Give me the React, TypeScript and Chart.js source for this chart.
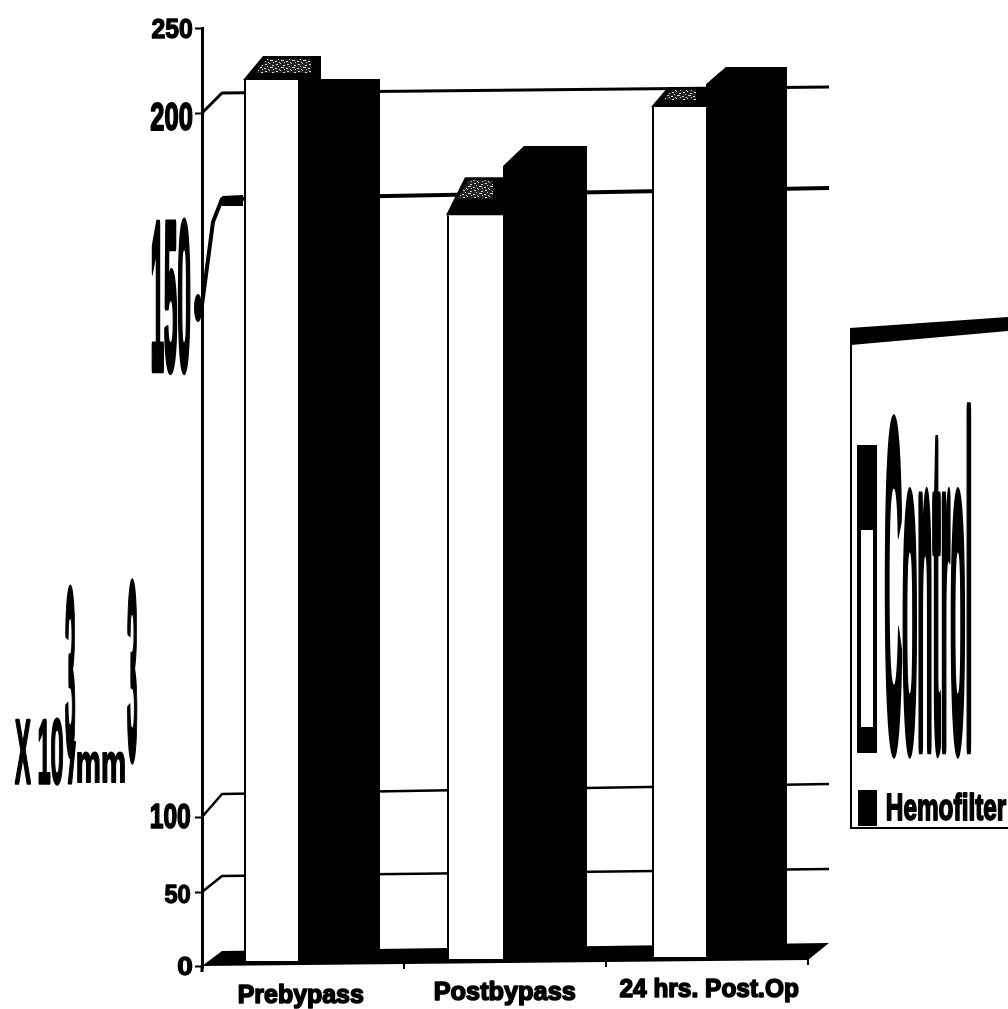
import React, { useEffect, useRef } from "react";
import { Chart, registerables, LinearScale } from "chart.js";

// ---------- data ----------
const categories = ["Prebypass", "Postbypass", "24 hrs. Post.Op"];
const seriesNames = ["Control", "Hemofilter"];
const controlValues = [219.4, 173.4, 203.5];
const hemofilterValues = [220, 191.4, 227];
const controlBase = [3.3, 4.7, 6];
const hemofilterBase = [3.3, 4.7, 6];
const tickValues = [0, 50, 100, 150, 200, 250];
const axisTitleParts = ["X 10", "3", "/mm", "3"];

// ---------- layout (the scanned figure has a warped value axis) ----------
const warpPixels = [966, 892, 817, 305, 113, 28];
const W = 1008;
const H = 1009;
const AREA = { left: 202, right: 808, top: 28, bottom: 968 };
// bar edges relative to category centre
const controlEdges = [[-59, -5], [-58, -2], [-55, -1]];
const hemofilterEdges = [[-5, 77], [-2, 82], [-1, 80]];
// tick label boxes [x0,y0,x1,y1] per tick
const tickBoxes = [
  [178, 957, 192, 975],
  [165, 885, 190, 903],
  [151, 804, 190, 828],
  [152, 223, 190, 368],
  [151, 103, 192, 130],
  [152, 18, 192, 38],
];
const catBoxes = [
  [239, 983, 363, 1008],
  [435, 981, 575, 1005],
  [620, 978, 798, 1002],
];
const titleBoxes = [
  [15, 720, 63, 783],
  [65, 588, 75, 752],
  [68, 740, 125, 783],
  [127, 583, 137, 757],
];
const wallLeft = [0, 876, 794, 199, 93];
const wallRight = [0, 869, 784, 188, 87];
const wallWidth = [0, 2.5, 2.5, 4, 3];
const FONT = '"Liberation Sans", Arial, sans-serif';

class WarpedLinearScale extends LinearScale {
  static id = "warped";
  static defaults = LinearScale.defaults;
  getPixelForValue(v: number) {
    const t = tickValues;
    let i = 0;
    while (i < t.length - 2 && v > t[i + 1]) i++;
    return warpPixels[i] + ((v - t[i]) / (t[i + 1] - t[i])) * (warpPixels[i + 1] - warpPixels[i]);
  }
  getValueForPixel(p: number) {
    let i = 0;
    while (i < warpPixels.length - 2 && p < warpPixels[i + 1]) i++;
    return tickValues[i] + ((p - warpPixels[i]) / (warpPixels[i + 1] - warpPixels[i])) * (tickValues[i + 1] - tickValues[i]);
  }
}

Chart.register(...registerables, WarpedLinearScale);

function fitText(ctx: CanvasRenderingContext2D, text: string, b: number[], heavy = 1) {
  ctx.save();
  ctx.font = `bold 40px ${FONT}`;
  ctx.textAlign = "left";
  ctx.textBaseline = "alphabetic";
  ctx.fillStyle = "#000";
  ctx.strokeStyle = "#000";
  const m = ctx.measureText(text);
  const bw = m.actualBoundingBoxLeft + m.actualBoundingBoxRight;
  const bh = m.actualBoundingBoxAscent + m.actualBoundingBoxDescent;
  ctx.translate(b[0], b[1]);
  ctx.scale((b[2] - b[0]) / bw, (b[3] - b[1]) / bh);
  ctx.fillText(text, m.actualBoundingBoxLeft, m.actualBoundingBoxAscent);
  ctx.lineWidth = heavy;
  ctx.lineJoin = "round";
  ctx.strokeText(text, m.actualBoundingBoxLeft, m.actualBoundingBoxAscent);
  ctx.restore();
}

function poly(ctx: CanvasRenderingContext2D, pts: number[][], fill: any) {
  ctx.beginPath();
  pts.forEach((p, i) => (i ? ctx.lineTo(p[0], p[1]) : ctx.moveTo(p[0], p[1])));
  ctx.closePath();
  ctx.fillStyle = fill;
  ctx.fill();
}

function speckle(ctx: CanvasRenderingContext2D) {
  const c = document.createElement("canvas");
  c.width = 11;
  c.height = 7;
  const g = c.getContext("2d")!;
  g.fillStyle = "#222";
  g.fillRect(0, 0, 11, 7);
  g.fillStyle = "#d8d8d8";
  [[1, 1, 2, 1], [5, 0, 1, 1], [8, 2, 2, 1], [3, 3, 1, 1], [6, 4, 3, 1], [0, 5, 2, 1], [9, 6, 1, 1], [4, 6, 1, 1]].forEach((r) =>
    g.fillRect(r[0], r[1], r[2], r[3])
  );
  return ctx.createPattern(c, "repeat")!;
}

const figurePlugin = {
  id: "figure",
  afterDatasetsUpdate(chart: any) {
    const x = chart.scales.x;
    [controlEdges, hemofilterEdges].forEach((edges, d) => {
      chart.getDatasetMeta(d).data.forEach((el: any, i: number) => {
        const c = x.getPixelForValue(i);
        el.x = c + (edges[i][0] + edges[i][1]) / 2;
        el.width = edges[i][1] - edges[i][0];
      });
    });
  },
  beforeDatasetsDraw(chart: any) {
    const ctx = chart.ctx as CanvasRenderingContext2D;
    const y = chart.scales.y;
    const { left } = chart.chartArea;
    const backX = left + 20;
    const farX = 829;
    ctx.save();
    ctx.strokeStyle = "#000";
    ctx.lineJoin = "round";
    // back wall lines and their side-wall runs, from the value axis ticks
    tickValues.forEach((v, i) => {
      if (i === 0 || i === tickValues.length - 1) return;
      ctx.lineWidth = wallWidth[i];
      ctx.beginPath();
      ctx.moveTo(left, y.getPixelForValue(v));
      if (v === 150) {
        ctx.lineTo(left + 11, 222);
      }
      ctx.lineTo(backX, wallLeft[i]);
      ctx.lineTo(farX, wallRight[i]);
      ctx.stroke();
    });
    ctx.fillStyle = "#000";
    ctx.beginPath();
    ctx.ellipse(left - 4, y.getPixelForValue(150) + 3, 4, 14, 0, 0, Math.PI * 2);
    ctx.fill();
    // thicker start of the 150 line
    poly(ctx, [[backX, 196], [243, 195], [243, 206], [backX, 206]], "#000");
    // floor
    const b0 = y.getPixelForValue(0);
    poly(ctx, [[left, b0], [backX, 951], [farX, 943], [808, 960]], "#000");
    // axis runs slightly past the zero tick
    ctx.lineWidth = 3;
    ctx.beginPath();
    ctx.moveTo(left, b0);
    ctx.lineTo(left, b0 + 6);
    ctx.stroke();
    // category ticks along the slanted floor edge
    ctx.lineWidth = 2;
    const xs = chart.scales.x;
    categories.forEach((_, i) => {
      const px = xs.getPixelForValue(i) + 101;
      const py = 966 - ((px - left) / 606) * 6;
      ctx.beginPath();
      ctx.moveTo(px, py - 2);
      ctx.lineTo(px, py + 5);
      ctx.stroke();
    });
    ctx.restore();
  },
  afterDatasetsDraw(chart: any) {
    const ctx = chart.ctx as CanvasRenderingContext2D;
    const pat = speckle(ctx);
    const white = chart.getDatasetMeta(0).data;
    const black = chart.getDatasetMeta(1).data;
    ctx.save();
    // top faces of the Control bars
    const faces = [
      { dx: 19, dy: 24, extra: 23 },
      { dx: 18, dy: 38, extra: 0 },
      { dx: 16, dy: 20, extra: 0 },
    ];
    white.forEach((el: any, i: number) => {
      const l = el.x - el.width / 2;
      const r = el.x + el.width / 2;
      const f = faces[i];
      poly(ctx, [[l - 1, el.y], [l + f.dx, el.y - f.dy], [r + f.extra, el.y - f.dy], [r + f.extra, el.y], [r, el.y]], "#000");
      poly(
        ctx,
        [
          [l + 11, el.y - 7 - (i === 1 ? 10 : 0)],
          [l + f.dx + 4, el.y - f.dy + 3],
          [r + f.extra - 10, el.y - f.dy + 3],
          [r + f.extra - 10, el.y - 7 - (i === 1 ? 10 : 0)],
        ],
        pat
      );
    });
    // sloped corner on the black bars
    [null, { dx: 22, dy: 21 }, { dx: 21, dy: 18 }].forEach((c, i) => {
      if (!c) return;
      const el = black[i];
      const l = el.x - el.width / 2;
      poly(ctx, [[l - 1, el.y - 1], [l + c.dx, el.y - 1], [l - 1, el.y + c.dy]], "#fff");
    });
    ctx.restore();
  },
  afterDraw(chart: any) {
    const ctx = chart.ctx as CanvasRenderingContext2D;
    const ticks = chart.scales.y.ticks;
    ticks.forEach((t: any, i: number) => fitText(ctx, String(t.value), tickBoxes[i], 2));
    (chart.data.labels as string[]).forEach((c, i) => fitText(ctx, c, catBoxes[i], 2.5));
    axisTitleParts.forEach((p, i) => fitText(ctx, p, titleBoxes[i], 1.5));

    // legend box
    ctx.save();
    ctx.fillStyle = "#000";
    poly(ctx, [[850, 328], [W, 317], [W, 331], [851, 345]], "#000");
    ctx.fillRect(850, 328, 2, 500);
    ctx.fillRect(850, 827, W - 850, 2);
    // Control swatch
    ctx.fillRect(857, 445, 20, 308);
    ctx.fillStyle = "#fff";
    ctx.fillRect(861, 530, 12, 197);
    ctx.restore();
    fitText(ctx, chart.data.datasets[0].label, [885, 402, 971, 743], 2);
    ctx.fillStyle = "#000";
    ctx.fillRect(858, 790, 19, 36);
    fitText(ctx, chart.data.datasets[1].label, [887, 792, 1006, 820], 2);
  },
};

export default function App() {
  const ref = useRef<HTMLCanvasElement>(null);
  useEffect(() => {
    const chart = new Chart(ref.current!, {
      type: "bar",
      data: {
        labels: categories,
        datasets: [
          {
            label: seriesNames[0],
            data: controlValues.map((v, i) => [controlBase[i], v]),
            backgroundColor: "#ffffff",
            borderColor: "#000000",
            borderWidth: { top: 0, left: 2, right: 0, bottom: 0 },
            borderSkipped: false,
          },
          {
            label: seriesNames[1],
            data: hemofilterValues.map((v, i) => [hemofilterBase[i], v]),
            backgroundColor: "#000000",
          },
        ],
      } as any,
      options: {
        animation: false,
        responsive: false,
        devicePixelRatio: 1,
        layout: { padding: { left: 0, right: W - AREA.right, top: AREA.top, bottom: 0 } },
        plugins: { legend: { display: false }, title: { display: false }, tooltip: { enabled: false } },
        scales: {
          x: {
            type: "category",
            offset: true,
            ticks: { display: false },
            grid: { display: false },
            border: { display: false },
            afterFit: (s: any) => {
              s.height = H - AREA.bottom;
            },
          },
          y: {
            type: "warped",
            min: 0,
            max: 250,
            ticks: { display: false, stepSize: 50 },
            grid: { drawOnChartArea: false, drawTicks: true, tickLength: 7, tickColor: "#000", tickWidth: 2 },
            border: { display: true, color: "#000", width: 3 },
            afterFit: (s: any) => {
              s.width = AREA.left;
            },
          },
        } as any,
      },
      plugins: [figurePlugin],
    } as any);
    return () => chart.destroy();
  }, []);
  return (
    <canvas
      ref={ref}
      width={W}
      height={H}
      style={{ position: "absolute", left: 0, top: 0, display: "block", background: "#fff" }}
    />
  );
}
